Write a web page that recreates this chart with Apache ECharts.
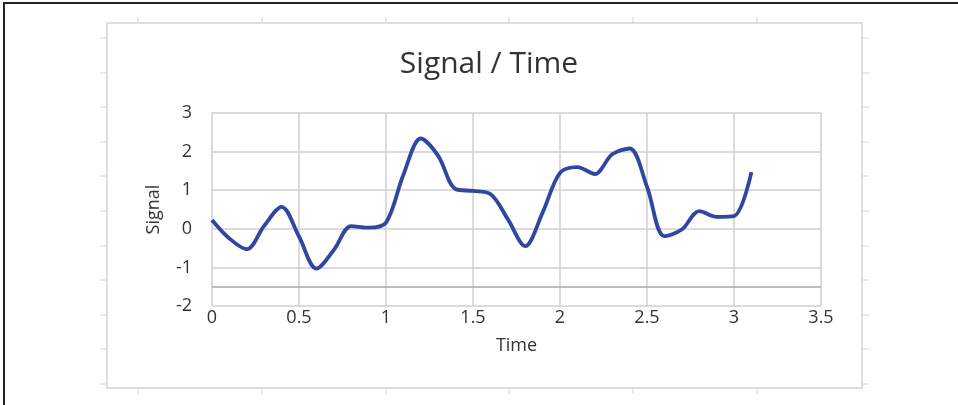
<!DOCTYPE html>
<html>
<head>
<meta charset="utf-8">
<script src="https://cdn.jsdelivr.net/npm/echarts@6/dist/echarts.min.js"></script>
<style>
  html, body { margin: 0; padding: 0; background: #ffffff; }
  #chart { width: 958px; height: 405px; }
</style>
</head>
<body>
<div id="chart"></div>
<script>
// Sampled signal, one reading every 0.1 time units
const times = [0, 0.1, 0.2, 0.3, 0.4, 0.5, 0.6, 0.7, 0.8, 0.9,
               1.0, 1.1, 1.2, 1.3, 1.4, 1.5, 1.6, 1.7, 1.8, 1.9,
               2.0, 2.1, 2.2, 2.3, 2.4, 2.5, 2.6, 2.7, 2.8, 2.9,
               3.0, 3.1];
const signal = [0.23, -0.25, -0.53, 0.08, 0.57, -0.2, -1.03, -0.55, 0.07, 0.03,
                0.16, 1.4, 2.34, 1.89, 1.03, 0.98, 0.9, 0.25, -0.45, 0.42,
                1.45, 1.6, 1.42, 1.93, 2.08, 1.09, -0.19, -0.02, 0.46, 0.31,
                0.33, 1.47];

// Axis settings
const xMin = 0, xMax = 3.5, xStep = 0.5;
const yMin = -2, yMax = 3, yStep = 1;
const crossLevel = -1.5;

const titleText = 'Signal / Time';
const xName = 'Time';
const yName = 'Signal';

const FONT = '"Open Sans", "Noto Sans", sans-serif';
const TEXT = '#333333';
const GRID = '#cfcfcf';
const FRAME = '#d4d4d4';

// Worksheet-style frame around the chart area
const frame = [];
frame.push({ type: 'line', shape: { x1: 3, y1: 3, x2: 958, y2: 3 }, style: { stroke: '#222', lineWidth: 2 } });
frame.push({ type: 'line', shape: { x1: 4, y1: 3, x2: 4, y2: 405 }, style: { stroke: '#222', lineWidth: 2 } });
frame.push({ type: 'rect', shape: { x: 107, y: 23, width: 755, height: 365 }, style: { fill: null, stroke: FRAME, lineWidth: 1.5 } });
const rowMarks = [38, 73, 107, 142, 176, 211, 246, 280, 315, 349, 384];
const colMarks = [138, 262, 386, 509, 633, 757];
rowMarks.forEach(y => {
  frame.push({ type: 'line', shape: { x1: 100, y1: y, x2: 107, y2: y }, style: { stroke: FRAME, lineWidth: 1 } });
  frame.push({ type: 'line', shape: { x1: 862, y1: y, x2: 869, y2: y }, style: { stroke: FRAME, lineWidth: 1 } });
});
colMarks.forEach(x => {
  frame.push({ type: 'line', shape: { x1: x, y1: 17, x2: x, y2: 23 }, style: { stroke: FRAME, lineWidth: 1 } });
  frame.push({ type: 'line', shape: { x1: x, y1: 388, x2: x, y2: 394 }, style: { stroke: FRAME, lineWidth: 1 } });
});

const chart = echarts.init(document.getElementById('chart'), null, { renderer: 'canvas' });
chart.setOption({
  animation: false,
  backgroundColor: '#ffffff',
  title: {
    text: titleText,
    left: 484,
    top: 44,
    textAlign: 'center',
    textStyle: { fontFamily: FONT, fontSize: 30, fontWeight: 'normal', color: TEXT }
  },
  graphic: frame,
  grid: { left: 212, right: 137, top: 113, bottom: 99, containLabel: false },
  xAxis: {
    type: 'value',
    min: xMin, max: xMax, interval: xStep,
    name: xName,
    nameLocation: 'middle',
    nameGap: 31,
    nameTextStyle: { fontFamily: FONT, fontSize: 18, color: TEXT },
    axisLine: { show: false },
    axisTick: { show: false },
    axisLabel: { fontFamily: FONT, fontSize: 18, color: TEXT, margin: 3 },
    splitLine: { show: true, lineStyle: { color: GRID, width: 1.5 } }
  },
  yAxis: {
    type: 'value',
    min: yMin, max: yMax, interval: yStep,
    name: yName,
    nameLocation: 'middle',
    nameGap: 49,
    nameTextStyle: { fontFamily: FONT, fontSize: 18, color: TEXT },
    axisLine: { show: false },
    axisTick: { show: false },
    axisLabel: { fontFamily: FONT, fontSize: 18, color: TEXT, margin: 20 },
    splitLine: { show: true, lineStyle: { color: GRID, width: 1.5 } }
  },
  series: [{
    type: 'line',
    data: times.map((t, i) => [t, signal[i]]),
    smooth: 0.33,
    showSymbol: false,
    lineStyle: { color: '#2f47a0', width: 3.8 },
    markLine: {
      silent: true,
      symbol: 'none',
      label: { show: false },
      lineStyle: { color: '#a8a8a8', width: 1.5, type: 'solid' },
      data: [{ yAxis: crossLevel }]
    }
  }]
});
</script>
</body>
</html>
